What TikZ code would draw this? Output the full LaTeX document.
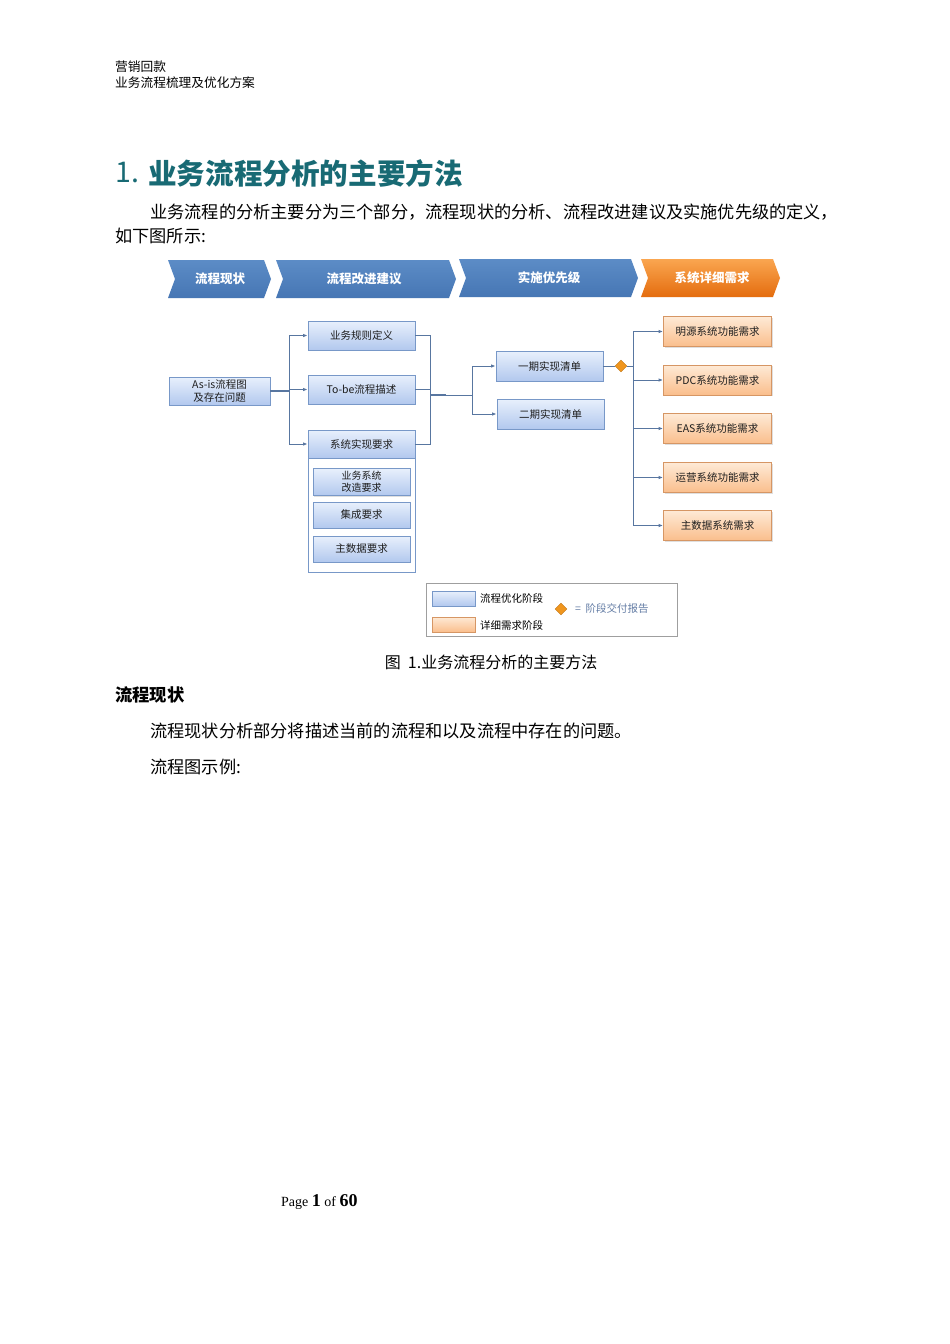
\documentclass[tikz,border=0pt]{standalone}
\usepackage{fontspec}
\setmainfont{Noto Sans CJK SC}
\newfontfamily\pagefont{Liberation Serif}
\usetikzlibrary{arrows.meta,shapes.geometric,shadows}
\definecolor{titleteal}{RGB}{24,106,116}
\definecolor{chevblueT}{RGB}{92,140,198}
\definecolor{chevblueB}{RGB}{70,118,180}
\definecolor{chevorT}{RGB}{250,166,80}
\definecolor{chevorB}{RGB}{228,108,14}
\definecolor{bboxT}{RGB}{232,240,252}
\definecolor{bboxB}{RGB}{178,200,238}
\definecolor{bboxD}{RGB}{120,152,200}
\definecolor{oboxT}{RGB}{254,234,214}
\definecolor{oboxB}{RGB}{250,190,140}
\definecolor{oboxD}{RGB}{214,150,100}
\definecolor{linec}{RGB}{88,118,160}
\definecolor{txtc}{RGB}{30,30,30}
\definecolor{legtxt}{RGB}{100,125,165}
\definecolor{diam}{RGB}{240,150,30}
\newcommand\myfs[1]{\fontsize{#1}{#1}\selectfont}
\begin{document}
\begin{tikzpicture}[x=1pt,y=-1pt,
  bluebox/.style={draw=bboxD, line width=0.8pt, top color=bboxT, bottom color=bboxB,
    minimum width=107pt, minimum height=29pt, inner sep=1pt, text=txtc, align=center,
    font=\myfs{10.5}, drop shadow={opacity=0.25, shadow xshift=1pt, shadow yshift=-1.2pt}},
  innerbox/.style={bluebox, minimum width=97pt, minimum height=26pt},
  orbox/.style={draw=oboxD, line width=0.8pt, top color=oboxT, bottom color=oboxB,
    minimum width=108pt, minimum height=30pt, inner sep=1pt, text=txtc, align=center,
    font=\myfs{10.5}, drop shadow={opacity=0.25, shadow xshift=1pt, shadow yshift=-1.2pt}},
  chevtext/.style={text=white, font=\bfseries\myfs{12.5}},
  conn/.style={draw=linec, line width=0.9pt},
  arr/.style={conn, -{Latex[length=4.5pt,width=3.5pt]}},
  diamondmark/.style={diamond, fill=diam, draw=diam!80!black, line width=0.3pt, minimum width=12pt, minimum height=12pt, inner sep=0pt},
  bodytext/.style={anchor=west, inner sep=0pt, font=\myfs{17.2}, text=black}
]
\useasboundingbox (0,0) rectangle (950,1344);
\fill[white] (0,0) rectangle (950,1344);

% header
\node[anchor=west, inner sep=0pt, font=\myfs{12.7}] (h1) at (115,67) {营销回款};
\node[anchor=west, inner sep=0pt, font=\myfs{12.7}] (h2) at (115,83) {业务流程梳理及优化方案};

% title
\node[anchor=west, inner sep=0pt, text=titleteal, font=\myfs{28.5}] (t1) at (115,173) {1.};
\node[anchor=west, inner sep=0pt, text=titleteal, font=\bfseries\myfs{28.6}] (t2) at (148,173) {业务流程分析的主要方法};

% paragraph
\node[bodytext] (p1) at (150,212) {业务流程的分析主要分为三个部分，流程现状的分析、流程改进建议及实施优先级的定义，};
\node[bodytext] (p2) at (115,236) {如下图所示:};

% chevrons
\shade[top color=chevblueT, bottom color=chevblueB] (168,260) -- (264,260) -- (271,279) -- (264,298) -- (168,298) -- (175,279) -- cycle;
\node[chevtext] (c1) at (220,279) {流程现状};
\shade[top color=chevblueT, bottom color=chevblueB] (276,260) -- (449,260) -- (456,279) -- (449,298) -- (276,298) -- (283,279) -- cycle;
\node[chevtext] (c2) at (364,279) {流程改进建议};
\shade[top color=chevblueT, bottom color=chevblueB] (459,259) -- (631,259) -- (638,278) -- (631,297) -- (459,297) -- (466,278) -- cycle;
\node[chevtext] (c3) at (549,278) {实施优先级};
\shade[top color=chevorT, bottom color=chevorB] (641,259) -- (773,259) -- (780,278) -- (773,297) -- (641,297) -- (648,278) -- cycle;
\node[chevtext] (c4) at (712,278) {系统详细需求};

% left box
\node[bluebox, minimum width=101pt, minimum height=28pt, font=\fontsize{10.5}{12.5}\selectfont, inner sep=0pt] (asis) at (219.5,391) {As-is流程图\\及存在问题};

% middle column
\node[bluebox] (r1) at (361.5,335.5) {业务规则定义};
\node[bluebox] (r2) at (361.5,389.5) {To-be流程描述};
\draw[draw=bboxD, line width=0.8pt, fill=white] (308,458) rectangle (415,572);
\node[bluebox, minimum height=28pt] (r3) at (361.5,444) {系统实现要求};
\node[innerbox, minimum height=27pt, font=\fontsize{10}{12}\selectfont, inner sep=0pt] (s1) at (361.5,482) {业务系统\\改造要求};
\node[innerbox] (s2) at (361.5,515) {集成要求};
\node[innerbox] (s3) at (361.5,549) {主数据要求};

% connectors from as-is
\coordinate (ja) at (289,391);
\draw[conn, line width=1.6pt] (asis.east) -- (ja);
\draw[conn] (289,336) -- (289,444);
\draw[arr] (ja |- r1.west) -- (r1.west);
\draw[arr] (ja |- r2.west) -- (r2.west);
\draw[arr] (ja |- r3.west) -- (r3.west);

% right of middle column
\coordinate (jb) at (430,395);
\draw[conn] (r1.east) -- (430,335.5) -- (430,444) -- (r3.east);
\draw[conn] (r2.east) -- (430,389.5);
\draw[conn, line width=1.8pt] (jb) -- (446,395);
\draw[conn] (446,395) -- (472,395);
\coordinate (jc) at (472,395);

% phase lists
\node[bluebox, minimum width=107pt, minimum height=30pt] (q1) at (549.5,366) {一期实现清单};
\node[bluebox, minimum width=107pt, minimum height=30pt] (q2) at (550.5,414) {二期实现清单};
\draw[conn] (472,366) -- (472,414);
\draw[arr] (jc |- q1.west) -- (q1.west);
\draw[arr] (jc |- q2.west) -- (q2.west);

% diamond and right fan
\node[diamondmark] (dm) at (621,366) {};
\draw[conn] (q1.east) -- (dm.west);
\coordinate (jd) at (633,366);
\draw[conn] (dm.east) -- (jd);

\node[orbox] (o1) at (717.5,331.5) {明源系统功能需求};
\node[orbox] (o2) at (717.5,380) {PDC系统功能需求};
\node[orbox] (o3) at (717.5,428.5) {EAS系统功能需求};
\node[orbox] (o4) at (717.5,477.5) {运营系统功能需求};
\node[orbox] (o5) at (717.5,525.5) {主数据系统需求};
\draw[conn] (633,331.5) -- (633,525.5);
\foreach \o in {o1,o2,o3,o4,o5}{
  \draw[arr] (jd |- \o.west) -- (\o.west);
}

% legend
\draw[draw=gray!75, line width=0.8pt] (426,583) rectangle (677,636);
\node[draw=bboxD, line width=0.8pt, top color=bboxT, bottom color=bboxB, minimum width=43pt, minimum height=15pt, inner sep=0pt] (lg1) at (453.5,598.5) {};
\node[draw=oboxD, line width=0.8pt, top color=oboxT, bottom color=oboxB, minimum width=43pt, minimum height=15pt, inner sep=0pt] (lg2) at (453.5,624.5) {};
\node[anchor=west, inner sep=0pt, font=\myfs{10.5}] (lt1) at (480,598) {流程优化阶段};
\node[anchor=west, inner sep=0pt, font=\myfs{10.5}] (lt2) at (480,625) {详细需求阶段};
\node[diamondmark] (ld) at (561,609) {};
\node[anchor=west, inner sep=0pt, font=\myfs{10.5}, text=legtxt] (lt3) at (575,609) {=\ \ 阶段交付报告};

% caption & text
\node[anchor=center, inner sep=0pt, font=\myfs{16}] (cap) at (491,662) {图\ \ 1.业务流程分析的主要方法};
\node[anchor=west, inner sep=0pt, font=\bfseries\myfs{17.3}] (sec) at (115,695) {流程现状};
\node[bodytext] (b1) at (150,731) {流程现状分析部分将描述当前的流程和以及流程中存在的问题。};
\node[bodytext] (b2) at (150,767) {流程图示例:};

% footer
\node[anchor=west, inner sep=0pt, font=\pagefont\myfs{14}] (pg) at (281,1202) {Page \textbf{\myfs{18}1} of \textbf{\myfs{18}60}};
\end{tikzpicture}
\end{document}
